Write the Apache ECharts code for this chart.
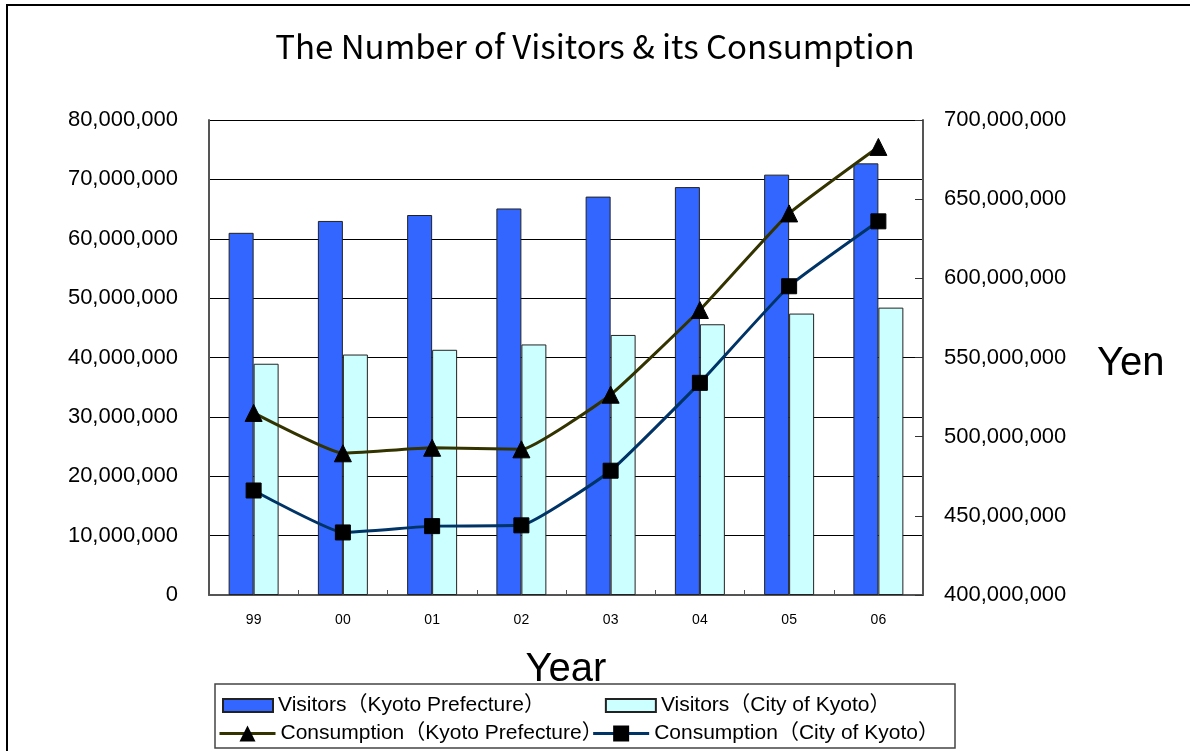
<!DOCTYPE html>
<html>
<head>
<meta charset="utf-8">
<script src="https://cdn.jsdelivr.net/npm/echarts@6/dist/echarts.min.js"></script>
<style>
html,body{margin:0;padding:0;background:#fff;}
#chart{width:1190px;height:751px;}
</style>
</head>
<body>
<div id="chart"></div>
<script>
const categories = ['99', '00', '01', '02', '03', '04', '05', '06'];
const visitorsPrefecture = [61000000, 63000000, 64000000, 65100000, 67100000, 68700000, 70800000, 72700000];
const visitorsCity = [38950000, 40500000, 41300000, 42200000, 43800000, 45600000, 47400000, 48400000];
const consumptionPrefecture = [515000000, 489500000, 493000000, 492000000, 526500000, 580000000, 641000000, 683000000];
const consumptionCity = [466000000, 439500000, 443500000, 444000000, 478500000, 534000000, 595000000, 636000000];
const names = ['Visitors（Kyoto Prefecture）', 'Visitors（City of Kyoto）', 'Consumption（Kyoto Prefecture）', 'Consumption（City of Kyoto）'];

const fmt = v => Number(v).toLocaleString('en-US');
const FONT = "'Liberation Sans', 'Noto Sans CJK JP', sans-serif";

const chart = echarts.init(document.getElementById('chart'), null, {renderer: 'canvas'});
chart.setOption({
  animation: false,
  backgroundColor: '#fff',
  textStyle: {fontFamily: FONT},
  title: {
    text: 'The Number of Visitors & its Consumption',
    left: 'center', top: 25,
    textStyle: {fontFamily: "'Noto Sans CJK JP', sans-serif", fontSize: 33, fontWeight: 'normal', color: '#000'}
  },
  grid: {left: 209, right: 267, top: 120, bottom: 156, containLabel: false},
  legend: [
    {
      data: [names[0], names[1]],
      left: 222, top: 695, padding: 0,
      itemWidth: 50, itemHeight: 13, itemGap: 60,
      icon: 'rect',
      textStyle: {color: '#000', fontFamily: FONT, fontSize: 21}
    },
    {
      data: [names[2], names[3]],
      left: 218, top: 723, padding: 0,
      itemWidth: 56, itemHeight: 20, itemGap: -11,
      lineStyle: {width: 3},
      textStyle: {color: '#000', fontFamily: FONT, fontSize: 21}
    }
  ],
  xAxis: {
    type: 'category',
    data: categories,
    name: 'Year',
    nameLocation: 'middle',
    nameGap: 55,
    nameTextStyle: {fontSize: 40, color: '#000', fontFamily: FONT},
    axisLine: {lineStyle: {color: '#555', width: 2}},
    axisTick: {show: true, inside: true, length: 5, lineStyle: {color: '#555'}},
    axisLabel: {fontSize: 14, color: '#000', margin: 18}
  },
  yAxis: [
    {
      type: 'value', min: 0, max: 80000000, interval: 10000000,
      axisLine: {show: true, lineStyle: {color: '#555', width: 2}},
      axisTick: {show: false},
      splitLine: {show: true, lineStyle: {color: '#000', width: 1}},
      axisLabel: {fontSize: 22, color: '#000', margin: 31, formatter: fmt}
    },
    {
      type: 'value', min: 400000000, max: 700000000, interval: 50000000,
      position: 'right',
      axisLine: {show: true, lineStyle: {color: '#555', width: 2}},
      axisTick: {show: true, inside: true, length: 8, lineStyle: {color: '#333'}},
      splitLine: {show: false},
      axisLabel: {fontSize: 22, color: '#000', margin: 21, formatter: fmt}
    }
  ],
  series: [
    {
      name: names[0], type: 'bar', data: visitorsPrefecture,
      barGap: '0%', barCategoryGap: '44%',
      itemStyle: {color: '#3366FF', borderColor: '#222', borderWidth: 1}
    },
    {
      name: names[1], type: 'bar', data: visitorsCity,
      itemStyle: {color: '#CCFFFF', borderColor: '#222', borderWidth: 1}
    },
    {
      name: names[2], type: 'line', yAxisIndex: 1, data: consumptionPrefecture,
      smooth: 0.12, symbol: 'triangle', symbolSize: 17,
      lineStyle: {color: '#333300', width: 3},
      itemStyle: {color: '#000', borderColor: '#000'}, z: 5
    },
    {
      name: names[3], type: 'line', yAxisIndex: 1, data: consumptionCity,
      smooth: 0.12, symbol: 'rect', symbolSize: 15,
      lineStyle: {color: '#003366', width: 3},
      itemStyle: {color: '#000', borderColor: '#000'}, z: 5
    }
  ],
  graphic: [
    {type: 'polyline', shape: {points: [[7, 751], [7, 5], [1190, 5]]}, style: {stroke: '#000', lineWidth: 2, fill: null}},
    {type: 'rect', shape: {x: 215, y: 684, width: 740, height: 64}, style: {stroke: '#444', lineWidth: 1.5, fill: null}, z: -1},
    {type: 'text', left: 1097, top: 344, style: {text: 'Yen', fontSize: 40, fill: '#000', fontFamily: FONT}}
  ]
});
</script>
</body>
</html>
